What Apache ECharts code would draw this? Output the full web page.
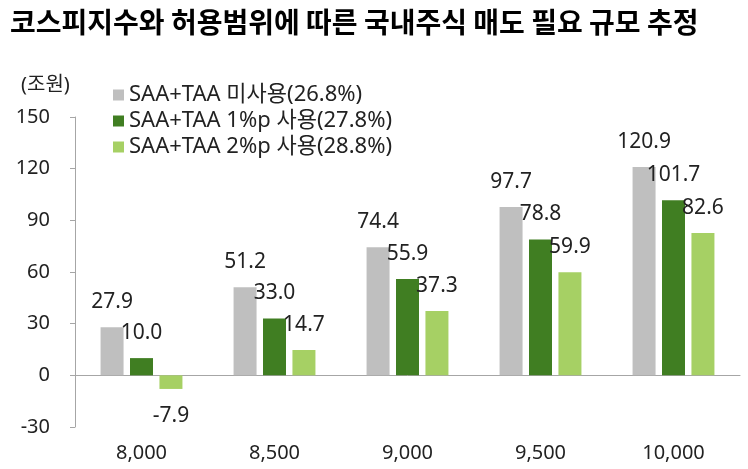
<!DOCTYPE html>
<html><head><meta charset="utf-8">
<script src="https://cdn.jsdelivr.net/npm/echarts@6/dist/echarts.min.js"></script>
<style>html,body{margin:0;padding:0;background:#fff}#c{width:748px;height:469px}</style>
</head><body><div id="c"></div>
<script>
const categories = ['8,000', '8,500', '9,000', '9,500', '10,000'];
const seriesNames = ['SAA+TAA 미사용(26.8%)', 'SAA+TAA 1%p 사용(27.8%)', 'SAA+TAA 2%p 사용(28.8%)'];
const noUse = [27.9, 51.2, 74.4, 97.7, 120.9];
const use1 = [10.0, 33.0, 55.9, 78.8, 101.7];
const use2 = [-7.9, 14.7, 37.3, 59.9, 82.6];
const colors = ['#BFBFBF', '#407E22', '#A6D064'];
const yTicks = { min: -30, max: 150, interval: 30 };

const FONT = '"Noto Sans", "Noto Sans CJK KR", sans-serif';
function mk(name, vals, color) {
  return {
    name, type: 'bar', barWidth: 23, barGap: '28%',
    itemStyle: { color },
    data: vals.map(v => ({
      value: v,
      label: v < 0 ? { position: 'bottom', distance: 17 } : { position: 'top', distance: 15 }
    })),
    label: { show: true, fontSize: 21, color: '#222', fontFamily: FONT,
      formatter: p => p.value.toFixed(1) }
  };
}
const chart = echarts.init(document.getElementById('c'));
chart.setOption({
  animation: false,
  title: [
    { text: '코스피지수와 허용범위에 따른 국내주식 매도 필요 규모 추정', left: 5, top: 3,
      textStyle: { fontSize: 28, fontWeight: 'bold', color: '#000', fontFamily: '"Noto Sans CJK KR", sans-serif' } },
    { text: '(조원)', left: 16, top: 70,
      textStyle: { fontSize: 20, fontWeight: 'normal', color: '#222', fontFamily: FONT } }
  ],
  legend: {
    orient: 'vertical', left: 108, top: 79, itemWidth: 11, itemHeight: 11, itemGap: 4,
    icon: 'rect',
    textStyle: { fontSize: 22, color: '#222', fontFamily: FONT },
    data: seriesNames
  },
  grid: { left: 75, right: 8, top: 117, bottom: 42, containLabel: false, outerBoundsMode: 'none' },
  xAxis: {
    type: 'category', data: categories,
    axisLine: { lineStyle: { color: '#A6A6A6', width: 1 } },
    axisTick: { length: 6, lineStyle: { color: '#A6A6A6' } },
    axisLabel: { margin: 16, fontSize: 20, color: '#222', fontFamily: FONT }
  },
  yAxis: {
    type: 'value', min: yTicks.min, max: yTicks.max, interval: yTicks.interval,
    splitLine: { show: false },
    axisLine: { show: true, lineStyle: { color: '#A6A6A6' } },
    axisTick: { show: true, length: 5, lineStyle: { color: '#A6A6A6' } },
    axisLabel: { margin: 25, fontSize: 20, color: '#222', fontFamily: FONT }
  },
  series: [mk(seriesNames[0], noUse, colors[0]), mk(seriesNames[1], use1, colors[1]), mk(seriesNames[2], use2, colors[2])]
});
</script></body></html>
